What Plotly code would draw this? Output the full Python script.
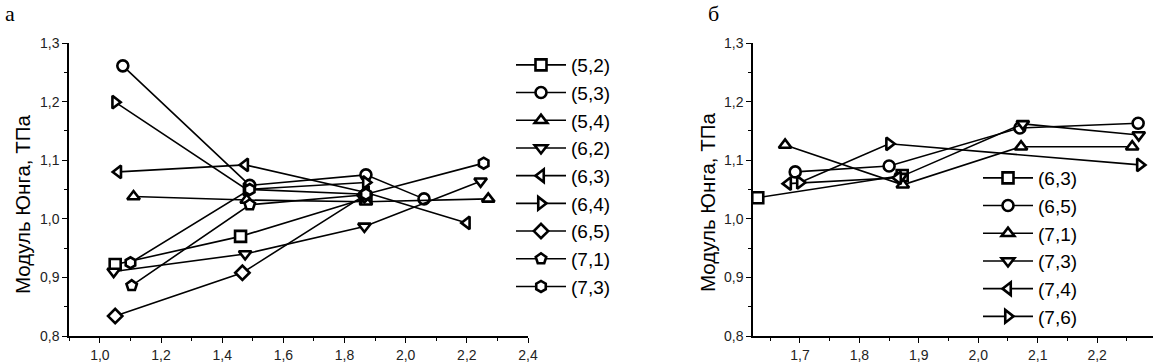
import plotly.graph_objects as go

W, H = 1153, 363

# ---- Panel а data ----
a_names = ["(5,2)", "(5,3)", "(5,4)", "(6,2)", "(6,3)", "(6,4)", "(6,5)", "(7,1)", "(7,3)"]
a_symbols = ["square", "circle", "triangle-up", "triangle-down", "triangle-left",
             "triangle-right", "diamond", "pentagon", "hexagon"]
a_x = [
    [1.05, 1.46, 1.87],
    [1.075, 1.49, 1.87, 2.06],
    [1.11, 1.48, 1.87, 2.27],
    [1.045, 1.475, 1.865, 2.245],
    [1.06, 1.475, 1.87, 2.20],
    [1.05, 1.48, 1.87],
    [1.05, 1.466, 1.865],
    [1.104, 1.49, 1.87],
    [1.10, 1.49, 1.87, 2.255],
]
a_y = [
    [0.922, 0.970, 1.035],
    [1.261, 1.057, 1.075, 1.034],
    [1.038, 1.032, 1.029, 1.034],
    [0.910, 0.940, 0.987, 1.064],
    [1.080, 1.092, 1.045, 0.993],
    [1.199, 1.050, 1.062],
    [0.834, 0.908, 1.040],
    [0.886, 1.024, 1.041],
    [0.925, 1.050, 1.042, 1.095],
]

# ---- Panel б data ----
b_names = ["(6,3)", "(6,5)", "(7,1)", "(7,3)", "(7,4)", "(7,6)"]
b_symbols = ["square", "circle", "triangle-up", "triangle-down", "triangle-left", "triangle-right"]
b_x = [
    [1.629, 1.872],
    [1.692, 1.850, 2.070, 2.269],
    [1.675, 1.873, 2.072, 2.259],
    [1.870, 2.075, 2.270],
    [1.680, 1.865],
    [1.700, 1.850, 2.272],
]
b_y = [
    [1.036, 1.074],
    [1.080, 1.090, 1.155, 1.163],
    [1.126, 1.058, 1.123, 1.123],
    [1.072, 1.162, 1.143],
    [1.060, 1.070],
    [1.062, 1.128, 1.092],
]

y_ticks = [0.8, 0.9, 1.0, 1.1, 1.2, 1.3]
a_xticks = [1.0, 1.2, 1.4, 1.6, 1.8, 2.0, 2.2, 2.4]
b_xticks = [1.7, 1.8, 1.9, 2.0, 2.1, 2.2]

FONT = "Arial, Liberation Sans, sans-serif"

fig = go.Figure()

for i, n in enumerate(a_names):
    fig.add_trace(go.Scatter(
        x=a_x[i], y=a_y[i], name=n, mode="lines+markers",
        xaxis="x", yaxis="y", legend="legend", legendgroup="a%d" % i,
        line=dict(color="black", width=1.6),
        marker=dict(symbol=a_symbols[i], size=11, color="white",
                    line=dict(color="black", width=2.6)),
    ))

for i, n in enumerate(b_names):
    fig.add_trace(go.Scatter(
        x=b_x[i], y=b_y[i], name=n, mode="lines+markers",
        xaxis="x2", yaxis="y2", legend="legend2", legendgroup="b%d" % i,
        line=dict(color="black", width=1.6),
        marker=dict(symbol=b_symbols[i], size=11, color="white",
                    line=dict(color="black", width=2.6)),
    ))

axis_common = dict(
    showgrid=False, zeroline=False, showline=True, linecolor="black", linewidth=1.5,
    ticks="outside", ticklen=5, tickwidth=1.2, tickcolor="black",
    tickfont=dict(family=FONT, size=14, color="#222"),
    automargin=False,
)

ydom = [27 / H, 1 - 43 / H]

fig.update_layout(
    width=W, height=H,
    margin=dict(l=0, r=0, t=0, b=0),
    paper_bgcolor="white", plot_bgcolor="white",
    separators=", ",
    showlegend=True,
    xaxis=dict(domain=[69 / W, 528 / W], range=[0.899, 2.4], tickvals=a_xticks,
               minor=dict(dtick=0.1, ticks="outside", ticklen=3, tickcolor="black"),
               tickformat=".1f", anchor="y", **axis_common),
    yaxis=dict(domain=ydom, range=[0.8, 1.3], tickvals=y_ticks, tickformat=".1f",
               minor=dict(dtick=0.05, ticks="outside", ticklen=3, tickcolor="black"),
               anchor="x", **axis_common),
    xaxis2=dict(domain=[753 / W, 1.0], range=[1.621, 2.294], tickvals=b_xticks,
                minor=dict(dtick=0.05, ticks="outside", ticklen=3, tickcolor="black"),
                tickformat=".1f", anchor="y2", **axis_common),
    yaxis2=dict(domain=ydom, range=[0.8, 1.3], tickvals=y_ticks, tickformat=".1f",
                minor=dict(dtick=0.05, ticks="outside", ticklen=3, tickcolor="black"),
                anchor="x2", **axis_common),
    legend=dict(x=511 / W, y=1 - 46 / H, xanchor="left", yanchor="top",
                bgcolor="rgba(0,0,0,0)", font=dict(family=FONT, size=19, color="black"),
                tracegroupgap=0, itemwidth=50),
    legend2=dict(x=978 / W, y=1 - 159 / H, xanchor="left", yanchor="top",
                 bgcolor="rgba(0,0,0,0)", font=dict(family=FONT, size=19, color="black"),
                 tracegroupgap=0, itemwidth=50),
    annotations=[
        dict(text="а", x=10 / W, y=1 - 14 / H, xref="paper", yref="paper",
             xanchor="center", yanchor="middle",
             showarrow=False, font=dict(family="Liberation Serif, DejaVu Serif, serif", size=22, color="black")),
        dict(text="б", x=713 / W, y=1 - 14 / H, xref="paper", yref="paper",
             xanchor="center", yanchor="middle",
             showarrow=False, font=dict(family="Liberation Serif, DejaVu Serif, serif", size=22, color="black")),
        dict(text="Модуль Юнга, ТПа", x=22 / W, y=1 - 205 / H, xref="paper", yref="paper",
             xanchor="center", yanchor="middle",
             textangle=-90, showarrow=False, font=dict(family=FONT, size=20.5, color="black")),
        dict(text="Модуль Юнга, ТПа", x=707 / W, y=1 - 203 / H, xref="paper", yref="paper",
             xanchor="center", yanchor="middle",
             textangle=-90, showarrow=False, font=dict(family=FONT, size=20.5, color="black")),
    ],
)

fig.write_html("out.html", config={"displayModeBar": False},
               post_script="document.body.style.margin='0';document.body.style.overflow='hidden';")
